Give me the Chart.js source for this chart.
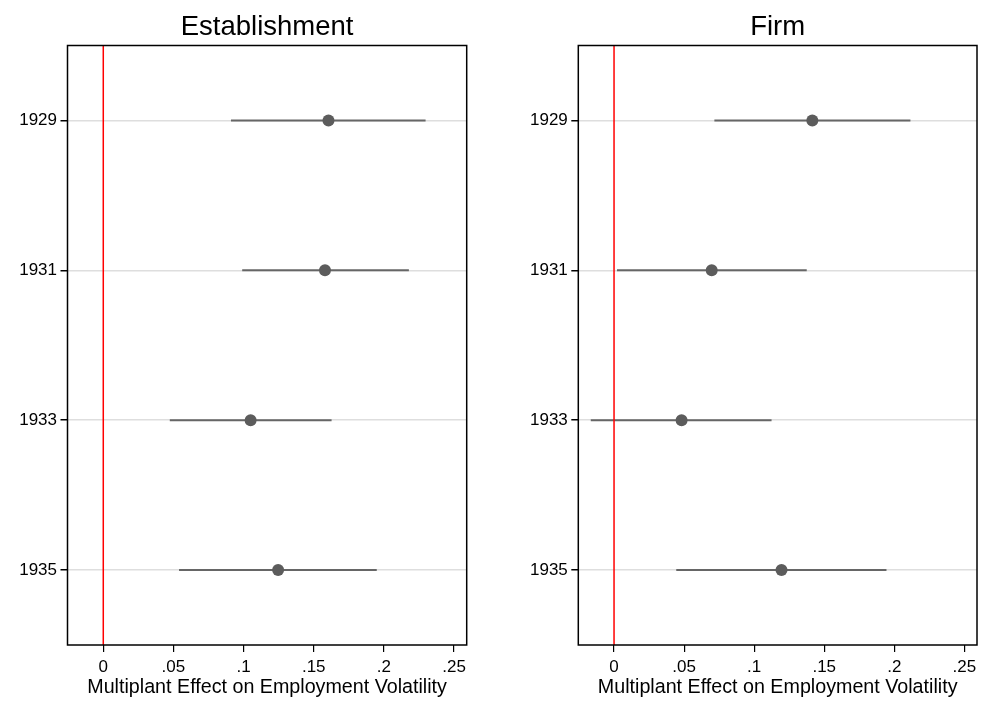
<!DOCTYPE html>
<html>
<head>
<meta charset="utf-8">
<script src="https://cdn.jsdelivr.net/npm/chart.js@4.4.0/dist/chart.umd.min.js"></script>
<style>
html, body { margin: 0; padding: 0; background: #fff; }
.panel { position: absolute; top: 0; height: 701px; }
</style>
</head>
<body>
<div class="panel" style="left:0;width:480px"><canvas id="estab" width="480" height="701"></canvas></div>
<div class="panel" style="left:510px;width:473px"><canvas id="firm" width="473" height="701"></canvas></div>
<script>
// data
var years = ['1929', '1931', '1933', '1935'];
var estabCoef = [0.1605, 0.158, 0.105, 0.1246];
var estabLo   = [0.091, 0.099, 0.0474, 0.054];
var estabHi   = [0.2297, 0.2178, 0.1627, 0.1949];
var firmCoef  = [0.1415, 0.0697, 0.0482, 0.1195];
var firmLo    = [0.0716, 0.0021, -0.0166, 0.0444];
var firmHi    = [0.2115, 0.1375, 0.1124, 0.1944];
var xTicks      = [0, 0.05, 0.1, 0.15, 0.2, 0.25];
var xTickLabels = ['0', '.05', '.1', '.15', '.2', '.25'];
var xMin = -0.0255, xMax = 0.259;
var xTitle = 'Multiplant Effect on Employment Volatility';

var fontFamily = '"Liberation Sans", Arial, Helvetica, sans-serif';
Chart.defaults.font.family = fontFamily;
Chart.defaults.color = '#000';

// black box round the plot region, panel title centred over it
var framePlugin = {
  id: 'frame',
  afterDraw: function(chart) {
    var a = chart.chartArea, ctx = chart.ctx;
    ctx.save();
    ctx.strokeStyle = '#000';
    ctx.lineWidth = 1.5;
    ctx.strokeRect(a.left, a.top, a.right - a.left, a.bottom - a.top);
    ctx.fillStyle = '#000';
    ctx.font = '27.5px ' + fontFamily;
    ctx.textAlign = 'center';
    ctx.textBaseline = 'alphabetic';
    ctx.fillText(chart.options.panelTitle, (a.left + a.right) / 2, 35);
    ctx.restore();
  }
};

function makePanel(id, title, coef, lo, hi, yWidth, padRight) {
  var datasets = [];
  // vertical reference line at zero
  datasets.push({
    data: [{x: 0, y: 0}, {x: 0, y: 1}],
    yAxisID: 'y2',
    showLine: true,
    borderColor: '#ff0000',
    borderWidth: 1.5,
    pointRadius: 0
  });
  datasets.push({
    data: years.map(function(yr, i) { return {x: coef[i], y: yr}; }),
    pointRadius: 6,
    pointBackgroundColor: '#5c5c5c',
    pointBorderWidth: 0,
    showLine: false
  });
  for (var i = 0; i < years.length; i++) {
    datasets.push({
      data: [{x: lo[i], y: years[i]}, {x: hi[i], y: years[i]}],
      showLine: true,
      borderColor: '#666666',
      borderWidth: 2,
      pointRadius: 0
    });
  }

  new Chart(document.getElementById(id), {
    type: 'scatter',
    data: { datasets: datasets },
    plugins: [framePlugin],
    options: {
      panelTitle: title,
      responsive: false,
      animation: false,
      layout: { padding: { left: 0, right: padRight, top: 45.5, bottom: 0 } },
      plugins: {
        legend: { display: false },
        tooltip: { enabled: false },
        title: { display: false }
      },
      scales: {
        x: {
          type: 'linear',
          min: xMin,
          max: xMax,
          afterBuildTicks: function(s) {
            s.ticks = xTicks.map(function(v) { return {value: v}; });
          },
          afterFit: function(s) {
            s.height = 56;
            s.paddingLeft = 0;
            s.paddingRight = 0;
          },
          ticks: {
            callback: function(v, i) { return xTickLabels[i]; },
            font: { size: 17 },
            padding: 5,
            maxRotation: 0,
            autoSkip: false
          },
          grid: { drawOnChartArea: false, tickColor: '#000', tickLength: 7, lineWidth: 1.2 },
          border: { display: false },
          title: {
            display: true,
            text: xTitle,
            font: { size: 19.7 },
            padding: { top: 0, bottom: 1.3 }
          }
        },
        y: {
          type: 'category',
          labels: years,
          offset: true,
          afterFit: function(s) {
            s.width = yWidth;
            s.paddingTop = 0;
            s.paddingBottom = 0;
          },
          ticks: { font: { size: 17 }, padding: 3.5 },
          grid: { offset: false, color: '#dedede', lineWidth: 1.5, tickColor: '#000', tickLength: 7 },
          border: { display: false }
        },
        y2: { type: 'linear', display: false, min: 0, max: 1 }
      }
    }
  });
}

makePanel('estab', 'Establishment', estabCoef, estabLo, estabHi, 67.5, 13.3);
makePanel('firm', 'Firm', firmCoef, firmLo, firmHi, 68.3, 4.7);
</script>
</body>
</html>
